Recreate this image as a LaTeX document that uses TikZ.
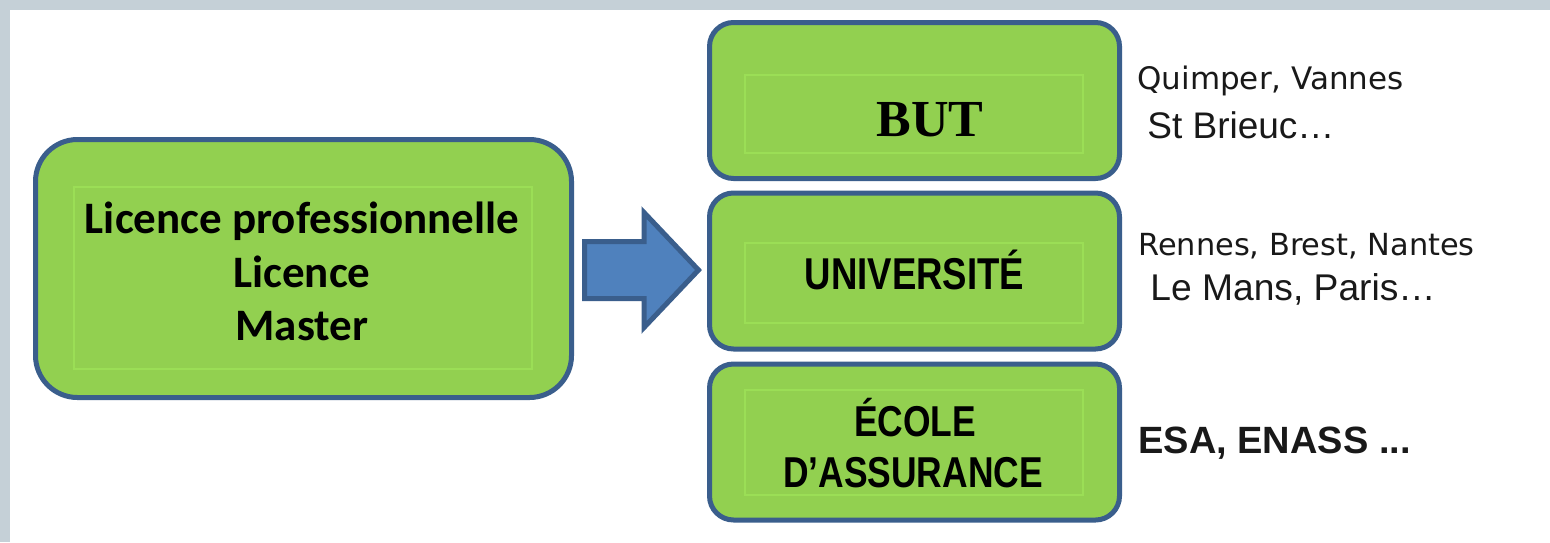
\documentclass[tikz,border=0pt]{standalone}
\usepackage{fontspec}
\setmainfont{Liberation Sans}
\newfontfamily\calib{Carlito}
\newfontfamily\serifb{Liberation Serif}
\newfontfamily\narrowf{Liberation Sans}[FakeStretch=0.82]
\newfontfamily\dejavu{DejaVu Sans}
\definecolor{framegray}{HTML}{C5D0D7}
\definecolor{boxgreen}{HTML}{92D050}
\definecolor{boxblue}{HTML}{3A5E8C}
\definecolor{innergreen}{HTML}{9BDE56}
\definecolor{arrowfill}{HTML}{4F81BD}
\tikzset{
  greenbox/.style={draw=boxblue, fill=boxgreen, line width=2.5pt, inner sep=0pt, outer sep=0pt},
  bigbox/.style={greenbox, rounded corners=21pt, minimum width=268pt, minimum height=129pt},
  smallbox/.style={greenbox, rounded corners=12pt, minimum width=205pt, minimum height=78pt},
  innerline/.style={draw=innergreen, line width=0.6pt},
  lefttext/.style={anchor=base, inner sep=0pt, font=\calib\bfseries\fontsize{22.5}{27}\selectfont},
  boxtext/.style={anchor=base, inner sep=0pt, font=\narrowf\bfseries\fontsize{21.6}{26}\selectfont},
  sidetext/.style={anchor=base west, inner sep=0pt, text=black!90},
  blockarrow/.style={draw=boxblue, fill=arrowfill, line width=2.5pt, line join=miter}
}
\begin{document}
\begin{tikzpicture}[x=0.5pt,y=-0.5pt]
\useasboundingbox (0,0) rectangle (1550,542);
\fill[white] (0,0) rectangle (1550,542);
\fill[framegray] (0,0) rectangle (1550,10);
\fill[framegray] (0,0) rectangle (10,542);

% boxes
\node[bigbox] (left) at (303.5,268.5) {};
\node[smallbox] (but) at (914.5,100.5) {};
\node[smallbox] (univ) at (914.5,271) {};
\node[smallbox] (ecole) at (914.5,442) {};

% inner text-frame lines
\draw[innerline] (74,187) rectangle (532,369);
\draw[innerline] (745,75) rectangle (1083,153);
\draw[innerline] (745,243) rectangle (1083,323);
\draw[innerline] (745,390) rectangle (1083,495);

% block arrow
\coordinate (a1) at (584.5,241.5);
\coordinate (a2) at (644,241.5);
\coordinate (a3) at (644,212.5);
\coordinate (a4) at (698.5,270);
\coordinate (a5) at (644,327.5);
\coordinate (a6) at (644,298.5);
\coordinate (a7) at (584.5,298.5);
\draw[blockarrow] (a1) -- (a2) -- (a3) -- (a4) -- (a5) -- (a6) -- (a7) -- cycle;

% texts in boxes
\node[lefttext] (l1) at (302,233) {Licence professionnelle};
\node[lefttext] (l2) at (302,287) {Licence};
\node[lefttext] (l3) at (302,340) {Master};
\node[anchor=base, inner sep=0pt, font=\serifb\bfseries\fontsize{26}{30}\selectfont] (butt) at (930,136) {BUT};
\node[boxtext, font=\narrowf\bfseries\fontsize{22.3}{26}\selectfont] (univt) at (914.5,289) {UNIVERSITÉ};
\node[boxtext] (ec1) at (915,436) {ÉCOLE};
\node[boxtext] (ec2) at (913,487) {D’ASSURANCE};

% side texts
\node[sidetext, font=\dejavu\fontsize{15.5}{18}\selectfont] (q1) at (1137,89) {Quimper, Vannes};
\node[sidetext, font=\fontsize{18.5}{22}\selectfont] (q2) at (1147,138) {St Brieuc…};
\node[sidetext, font=\dejavu\fontsize{15.2}{18}\selectfont] (r1) at (1138,255) {Rennes, Brest, Nantes};
\node[sidetext, font=\fontsize{18.6}{22}\selectfont] (r2) at (1150,300) {Le Mans, Paris…};
\node[sidetext, font=\bfseries\fontsize{19}{22}\selectfont] (e1) at (1138,453) {ESA, ENASS ...};
\end{tikzpicture}
\end{document}
